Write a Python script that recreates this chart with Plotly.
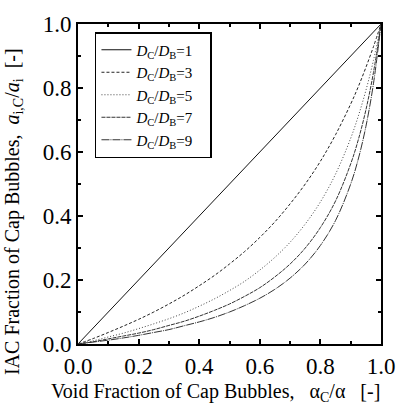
import plotly.graph_objects as go

# x values (void fraction of cap bubbles)
x_vals = [0, 0.05, 0.1, 0.15, 0.2, 0.25, 0.3, 0.35, 0.4, 0.45, 0.5, 0.55,
          0.6, 0.65, 0.7, 0.75, 0.8, 0.85, 0.9, 0.925, 0.95, 0.975, 1.0]
x_r1 = [0, 1.0]
y_r1 = [0, 1.0]
y_r3 = [0, 0.017, 0.036, 0.056, 0.077, 0.100, 0.125, 0.152, 0.182, 0.214, 0.250, 0.289,
        0.333, 0.382, 0.438, 0.500, 0.571, 0.654, 0.750, 0.804, 0.864, 0.929, 1.0]
y_r5 = [0, 0.010, 0.022, 0.034, 0.048, 0.063, 0.079, 0.097, 0.118, 0.141, 0.167, 0.196,
        0.231, 0.271, 0.318, 0.375, 0.444, 0.531, 0.643, 0.712, 0.792, 0.886, 1.0]
y_r7 = [0, 0.007, 0.016, 0.025, 0.034, 0.045, 0.058, 0.071, 0.087, 0.105, 0.125, 0.149,
        0.176, 0.210, 0.250, 0.300, 0.364, 0.447, 0.563, 0.638, 0.731, 0.848, 1.0]
y_r9 = [0, 0.006, 0.012, 0.019, 0.027, 0.036, 0.045, 0.057, 0.069, 0.083, 0.100, 0.120,
        0.143, 0.171, 0.206, 0.250, 0.308, 0.386, 0.500, 0.578, 0.679, 0.813, 1.0]
tick_vals = [0.0, 0.2, 0.4, 0.6, 0.8, 1.0]
tick_text = ["0.0", "0.2", "0.4", "0.6", "0.8", "1.0"]

FONT = "Liberation Serif"

def lab(n):
    return "<i>D</i><sub>C</sub>/<i>D</i><sub>B</sub>=%d\u00a0\u00a0\u00a0" % n

fig = go.Figure()
fig.add_trace(go.Scatter(x=x_r1, y=y_r1, mode="lines", name=lab(1),
                         line=dict(color="#111", width=1)))
fig.add_trace(go.Scatter(x=x_vals, y=y_r3, mode="lines", name=lab(3), line_shape="spline",
                         line=dict(color="#222", width=1, dash="3px,2px")))
fig.add_trace(go.Scatter(x=x_vals, y=y_r5, mode="lines", name=lab(5), line_shape="spline",
                         line=dict(color="#444", width=1, dash="1px,2px")))
fig.add_trace(go.Scatter(x=x_vals, y=y_r7, mode="lines", name=lab(7), line_shape="spline",
                         line=dict(color="#333", width=1, dash="4px,1px")))
fig.add_trace(go.Scatter(x=x_vals, y=y_r9, mode="lines", name=lab(9), line_shape="spline",
                         line=dict(color="#333", width=1, dash="8px,1px,1px,1px")))

axis_common = dict(
    range=[0, 1], showgrid=False, zeroline=False,
    showline=True, linecolor="black", linewidth=2, mirror="ticks",
    ticks="inside", ticklen=5, tickwidth=2, tickcolor="black",
    tickvals=tick_vals, ticktext=tick_text,
    tickfont=dict(family=FONT, size=23, color="black"),
    minor=dict(ticks="inside", ticklen=3, tickwidth=2, dtick=0.1, tickcolor="black"),
)
fig.update_xaxes(**axis_common)
fig.update_yaxes(**axis_common)

fig.update_layout(
    width=409, height=407,
    margin=dict(l=78, r=28, t=15, b=63),
    paper_bgcolor="white", plot_bgcolor="white",
    font=dict(family=FONT, color="black"),
    showlegend=True,
    legend=dict(x=0.056, y=0.975, xanchor="left", yanchor="top",
                bordercolor="black", borderwidth=1.5, bgcolor="white",
                font=dict(family=FONT, size=15, color="black"),
                tracegroupgap=0),
    annotations=[
        dict(text="Void Fraction of Cap Bubbles,\u00a0\u00a0\u00a0α<sub>C</sub>/α\u00a0\u00a0\u00a0[-]",
             xref="paper", yref="paper", x=0.455, y=-0.152, xanchor="center", yanchor="middle",
             showarrow=False, font=dict(family=FONT, size=20, color="black")),
        dict(text="IAC Fraction of Cap Bubbles,\u00a0\u00a0<i>a</i><sub>i,C</sub>/<i>a</i><sub>i</sub>\u00a0\u00a0[-]",
             xref="paper", yref="paper", x=-0.215, y=0.415, xanchor="center", yanchor="middle",
             textangle=-90, showarrow=False, font=dict(family=FONT, size=20, color="black")),
    ],
)

fig.write_html("out.html")
